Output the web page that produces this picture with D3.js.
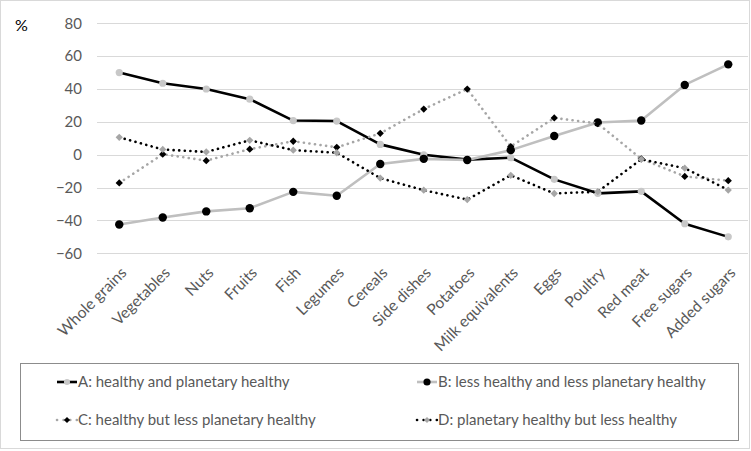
<!DOCTYPE html>
<html>
<head>
<meta charset="utf-8">
<script src="https://cdn.jsdelivr.net/npm/d3@7"></script>
<style>
  html, body { margin: 0; padding: 0; background: #fff; }
  svg { display: block; }
  text { font-family: Lato, "Open Sans", sans-serif; }
</style>
</head>
<body>
<svg id="chart" width="751" height="451"></svg>
<script>
const categories = ["Whole grains", "Vegetables", "Nuts", "Fruits", "Fish", "Legumes", "Cereals",
  "Side dishes", "Potatoes", "Milk equivalents", "Eggs", "Poultry", "Red meat", "Free sugars", "Added sugars"];

const seriesA = [50, 43.5, 40, 33.8, 20.8, 20.5, 6.3, 0, -3, -1.8, -15, -23.5, -22.3, -42, -50];
const seriesB = [-42.5, -38.2, -34.5, -32.6, -22.6, -25, -5.6, -2.5, -3.2, 2.8, 11.4, 19.6, 20.8, 42.5, 55];
const seriesC = [-17.2, 0.3, -3.6, 3.4, 8.2, 4.5, 13, 27.8, 40, 5, 22.4, 19, -2.5, -13.2, -15.8];
const seriesD = [10.6, 3.2, 1.7, 8.8, 2.8, 1.2, -14.2, -21.6, -27.3, -12.5, -23.6, -22.5, -2.8, -8.2, -21.5];

const seriesNames = ["A: healthy and planetary healthy", "B: less healthy and less planetary healthy",
  "C: healthy but less planetary healthy", "D: planetary healthy but less healthy"];

const yTicks = [80, 60, 40, 20, 0, -20, -40, -60];

const styles = [
  { values: seriesA, line: "#000000", dash: null, marker: "circle", fill: "#c8c8c8", r: 3.6 },
  { values: seriesB, line: "#bfbfbf", dash: null, marker: "circle", fill: "#000000", r: 4.2 },
  { values: seriesC, line: "#a6a6a6", dash: "0.1,5.5", marker: "diamond", fill: "#000000", r: 3.6 },
  { values: seriesD, line: "#000000", dash: "0.1,5.5", marker: "diamond", fill: "#a6a6a6", r: 3.6 }
];

const svg = d3.select("#chart");

// outer chart border
svg.append("rect").attr("x", 0.5).attr("y", 0.5).attr("width", 749).attr("height", 448)
  .attr("fill", "#fff").attr("stroke", "#d9d9d9").attr("stroke-width", 1);

const x = d3.scalePoint().domain(categories).range([97.5, 750]).padding(0.5);
const y = d3.scaleLinear().domain([-60, 80]).range([253.3, 23.3]);

// gridlines
svg.append("g").selectAll("line").data(yTicks).join("line")
  .attr("x1", 97).attr("x2", 748)
  .attr("y1", d => Math.round(y(d)) + 0.5).attr("y2", d => Math.round(y(d)) + 0.5)
  .attr("stroke", "#d9d9d9").attr("stroke-width", 1);

// y axis labels
const yAxis = d3.axisLeft(y).tickValues(yTicks).tickSize(0).tickPadding(0);
const gy = svg.append("g").attr("transform", "translate(82,0)").call(yAxis);
gy.select(".domain").remove();
gy.selectAll("text").attr("font-size", 15).attr("fill", "#595959")
  .attr("font-family", "Lato, 'Open Sans', sans-serif");

svg.append("text").attr("x", 15).attr("y", 31).attr("font-size", 16).attr("fill", "#000").text("%");

// x axis labels
const xAxis = d3.axisBottom(x).tickSize(0).tickPadding(0);
const gx = svg.append("g").attr("transform", "translate(0,270)").call(xAxis);
gx.select(".domain").remove();
gx.selectAll("text")
  .attr("font-size", 15.5).attr("fill", "#595959")
  .attr("font-family", "Lato, 'Open Sans', sans-serif")
  .attr("text-anchor", "end")
  .attr("dy", "0.35em")
  .attr("transform", "translate(4,0) rotate(-45)");

function drawMarker(g, s, cx, cy, sizeScale) {
  const r = s.r * sizeScale;
  if (s.marker === "circle") {
    g.append("circle").attr("cx", cx).attr("cy", cy).attr("r", r).attr("fill", s.fill);
  } else {
    g.append("path").attr("transform", `translate(${cx},${cy})`)
      .attr("d", d3.symbol().type(d3.symbolDiamond2).size(r * r * 2.6)()).attr("fill", s.fill);
  }
}

const line = d3.line().x((d, i) => x(categories[i])).y(d => y(d));

styles.forEach((s, si) => {
  const g = svg.append("g");
  g.append("path").datum(s.values).attr("d", line)
    .attr("fill", "none").attr("stroke", s.line).attr("stroke-width", 2.6)
    .attr("stroke-linecap", s.dash ? "round" : "butt")
    .attr("stroke-linejoin", "round")
    .attr("stroke-dasharray", s.dash);
  s.values.forEach((v, i) => drawMarker(g, s, x(categories[i]), y(v), 1));
});

// legend
svg.append("rect").attr("x", 20.5).attr("y", 363.5).attr("width", 718).attr("height", 77)
  .attr("fill", "none").attr("stroke", "#8c8c8c").attr("stroke-width", 1);

const legendPos = [[57, 382], [417, 382], [57, 420], [417, 420]];
styles.forEach((s, si) => {
  const [lx, ly] = legendPos[si];
  const g = svg.append("g");
  g.append("line").attr("x1", lx).attr("x2", lx + 20).attr("y1", ly).attr("y2", ly)
    .attr("stroke", s.line).attr("stroke-width", 2.6)
    .attr("stroke-linecap", s.dash ? "round" : "butt")
    .attr("stroke-dasharray", s.dash ? "0.1,6.5" : null);
  drawMarker(g, s, lx + 10, ly, 0.85);
  g.append("text").attr("x", lx + 21).attr("y", ly).attr("dy", "0.35em")
    .attr("font-size", 15).attr("fill", "#595959").text(seriesNames[si]);
});
</script>
</body>
</html>
